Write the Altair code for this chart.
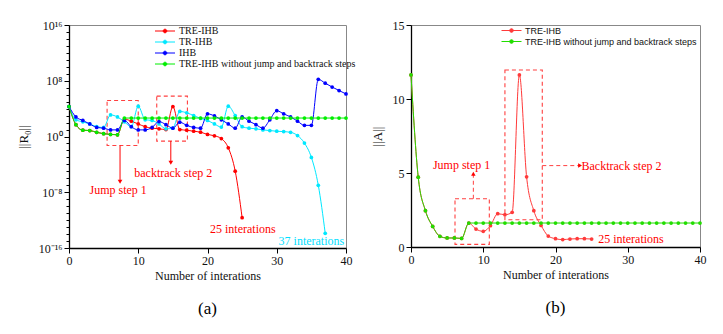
import altair as alt
import pandas as pd

# ---------------- panel (a): log10 of ||R0|| per iteration ----------------
a_names = ["TRE-IHB", "TR-IHB", "IHB", "TRE-IHB without jump and backtrack steps"]
a_colors = ["#ff0000", "#00e8ff", "#0000ff", "#00ee00"]
a_tre = [4.3, 1.7, 0.9, 0.86, 0.6, 0.4, 0.3, 0.25, 2.5, 2.2, 1.8, 1.4, 1.2, 1.1, 1.0,
         4.3, 1.0, 0.9, 0.76, 0.62, 0.3, 0.1, -0.3, -1.62, -4.97, -11.65]
a_tr = [4.3, 2.4, 2.1, 1.8, 1.4, 1.3, 3.1, 2.8, 2.1, 1.4, 4.35, 2.4, 2.3, 1.8, 1.1,
        1.2, 3.6, 3.4, 3.0, 2.6, 2.3, 1.8, 1.35, 4.35, 3.0, 1.4, 1.2, 1.1, 0.95, 0.85,
        0.76, 0.7, 0.6, 0.14, -0.95, -3.0, -7.0, -13.9]
a_ihb = [4.3, 2.8, 2.3, 1.8, 1.3, 1.2, 0.95, 0.95, 2.3, 1.4, 0.95, 0.95, 1.3, 2.15, 1.7,
         1.2, 2.05, 1.6, 1.3, 1.2, 3.25, 2.95, 2.4, 1.8, 1.2, 2.8, 2.2, 1.7, 1.2, 2.4,
         3.7, 3.25, 2.8, 2.2, 1.6, 1.6, 8.2, 7.65, 7.1, 6.6, 6.1]
a_plain = [4.3, 1.7, 0.9, 0.86, 0.6, 0.4, 0.3, 0.25, 2.65, 2.65, 2.65, 2.65, 2.65, 2.65,
           2.65, 2.65, 2.65, 2.65, 2.65, 2.65, 2.65, 2.65, 2.65, 2.65, 2.65, 2.65, 2.65,
           2.65, 2.65, 2.65, 2.65, 2.65, 2.65, 2.65, 2.65, 2.65, 2.65, 2.65, 2.65, 2.65, 2.65]

# annotations (a), y given as log10
a_box_x = [5.5, 12.67]
a_box_x2 = [10.0, 17.1]
a_box_e = [5.16, 5.79]
a_box_e2 = [-1.29, -0.66]
a_arr_x = [7.37, 14.7]
a_arr_e = [-1.29, -0.66]
a_arr_e2 = [-6.5, -3.77]
a_txt = ["Jump step 1", "backtrack step 2", "25 interations", "37 interations"]
a_txt_x = [7.1, 15.05, 25.1, 35.0]
a_txt_e = [-7.7, -5.2, -13.3, -15.0]
a_txt_c = ["#ff0000", "#ff0000", "#ff0000", "#00e0ff"]

# ---------------- panel (b): ||A|| per iteration ----------------
b_names = ["TRE-IHB", "TRE-IHB without jump and backtrack steps"]
b_colors = ["#ff3a3a", "#22dd00"]
b_tre = [11.63, 4.72, 2.45, 1.39, 0.72, 0.61, 0.61, 0.58, 1.62, 1.21, 1.06, 1.44, 2.25,
         2.18, 2.34, 11.63, 4.74, 2.45, 1.46, 0.74, 0.56, 0.5, 0.54, 0.56, 0.56, 0.54]
b_plain = [11.63, 4.72, 2.45, 1.39, 0.72, 0.61, 0.61, 0.58, 1.62, 1.62, 1.62, 1.62, 1.62,
           1.62, 1.62, 1.62, 1.62, 1.62, 1.62, 1.62, 1.62, 1.62, 1.62, 1.62, 1.62, 1.62,
           1.62, 1.62, 1.62, 1.62, 1.62, 1.62, 1.62, 1.62, 1.62, 1.62, 1.62, 1.62, 1.62,
           1.62, 1.62]

b_box_x = [6.09, 13.0]
b_box_x2 = [10.84, 18.17]
b_box_y = [3.26, 11.96]
b_box_y2 = [0.18, 1.84]
b_arr = [  # x, y, x2, y2, head shape
    (8.63, 3.26, 8.63, 4.95, "triangle-up"),
    (18.17, 5.5, 23.4, 5.5, "triangle-right"),
]
b_txt = ["Jump step 1", "Backtrack step 2", "25 interations"]
b_txt_x = [7.0, 23.6, 25.9]
b_txt_y = [5.55, 5.5, 0.56]

SERIF = "Liberation Serif, Times New Roman, Times, serif"
SANS = "Liberation Sans, Arial, sans-serif"
SYM = "M-2.5,0L2.5,0M-0.45,0A0.45,0.45,0,1,0,0.45,0A0.45,0.45,0,1,0,-0.45,0"


def frame(vals, names):
    rows = []
    for n, v in zip(names, vals):
        for i, e in enumerate(v):
            rows.append({"it": i, "e": e, "v": 10 ** e, "s": n})
    return pd.DataFrame(rows)


def legend(x, y, font, size, spacing):
    return alt.Legend(title=None, orient="none", legendX=x, legendY=y, symbolType=SYM,
                      symbolSize=64, symbolStrokeWidth=1, labelOffset=9,
                      labelFont=font, labelFontSize=size, labelColor="#111",
                      rowPadding=spacing, padding=0, labelLimit=400)


xaxis = alt.Axis(values=list(range(0, 41, 5)), title="Number of interations",
                 labelExpr="datum.value % 10 == 0 ? datum.label : ''",
                 tickSize={"condition": {"test": "datum.value % 10 == 0", "value": 5}, "value": 3},
                 grid=False, labelFlush=False, titlePadding=4)
xscale = alt.Scale(domain=[0, 40], nice=False, zero=False)

# ---------------- chart (a) ----------------
dfa = frame([a_tre, a_tr, a_ihb, a_plain], a_names)
ya_scale = alt.Scale(type="log", domain=[1e-16, 1e16], nice=False)
ya_axis = alt.Axis(values=[10.0 ** k for k in range(-16, 17)], title="||R₀||",
                   labelExpr="datum.value == 1e16 ? '10¹⁶' : datum.value == 1e8 ? '10⁸' : datum.value == 1 ? '10⁰' : datum.value == 1e-8 ? '10⁻⁸' : datum.value == 1e-16 ? '10⁻¹⁶' : ''",
                   tickSize={"condition": {"test": "abs(round(log(datum.value)/LN10)) % 8 == 0", "value": 5}, "value": 3},
                   labelOverlap=False, grid=False, titlePadding=8, titleFontSize=13)

lines_a = alt.Chart(dfa).mark_line(interpolate="monotone", strokeWidth=1,
                                   point=alt.OverlayMarkDef(filled=True, size=14)).encode(
    x=alt.X("it:Q", scale=xscale, axis=xaxis),
    y=alt.Y("v:Q", scale=ya_scale, axis=ya_axis),
    color=alt.Color("s:N", scale=alt.Scale(domain=a_names, range=a_colors),
                    legend=legend(91, 1, SERIF, 10, 1)),
    order=alt.Order("it:Q"),
)

boxa = pd.DataFrame({"x": a_box_x, "x2": a_box_x2,
                     "y": [10 ** e for e in a_box_e], "y2": [10 ** e for e in a_box_e2]})
boxes_a = alt.Chart(boxa).mark_rect(fill=None, stroke="#ff4040", strokeDash=[4, 3],
                                    strokeWidth=1.1).encode(x="x:Q", x2="x2:Q", y="y:Q", y2="y2:Q")
arra = pd.DataFrame({"x": a_arr_x, "y": [10 ** e for e in a_arr_e],
                     "y2": [10 ** e for e in a_arr_e2]})
arrows_a = alt.Chart(arra).mark_rule(color="#ff0000", strokeWidth=1).encode(
    x="x:Q", y="y:Q", y2="y2:Q")
heads_a = alt.Chart(arra).mark_point(shape="triangle-down", filled=True, color="#ff0000",
                                     size=22, opacity=1).encode(x="x:Q", y="y2:Q")
txta = pd.DataFrame({"x": a_txt_x, "y": [10 ** e for e in a_txt_e], "t": a_txt, "c": a_txt_c})
texts_a = alt.Chart(txta).mark_text(font=SERIF, fontSize=12, align="center",
                                    baseline="middle").encode(
    x="x:Q", y="y:Q", text="t:N", color=alt.Color("c:N", scale=None))

chart_a = alt.layer(boxes_a, arrows_a, heads_a, lines_a, texts_a).properties(
    width=277, height=223,
    title=alt.TitleParams("(a)", orient="bottom", font=SERIF, fontSize=17,
                          fontWeight="normal", offset=20, color="#000"))

# ---------------- chart (b) ----------------
dfb = frame([b_tre, b_plain], b_names)
yb_axis = alt.Axis(values=[0, 2.5, 5, 7.5, 10, 12.5, 15], title="||A||",
                   labelExpr="datum.value % 5 == 0 ? datum.label : ''",
                   tickSize={"condition": {"test": "datum.value % 5 == 0", "value": 5}, "value": 3},
                   labelOverlap=False, grid=False, titlePadding=8, titleFontSize=13)
lines_b = alt.Chart(dfb).mark_line(interpolate="monotone", strokeWidth=1,
                                   point=alt.OverlayMarkDef(filled=True, size=14)).encode(
    x=alt.X("it:Q", scale=xscale, axis=xaxis),
    y=alt.Y("e:Q", scale=alt.Scale(domain=[0, 15], nice=False), axis=yb_axis),
    color=alt.Color("s:N", scale=alt.Scale(domain=b_names, range=b_colors),
                    legend=legend(96, 1, SANS, 9, 1)),
    order=alt.Order("it:Q"),
)
boxb = pd.DataFrame({"x": b_box_x, "x2": b_box_x2, "y": b_box_y, "y2": b_box_y2})
boxes_b = alt.Chart(boxb).mark_rect(fill=None, stroke="#ff4040", strokeDash=[4, 3],
                                    strokeWidth=1.1).encode(x="x:Q", x2="x2:Q", y="y:Q", y2="y2:Q")
arrb = pd.DataFrame(b_arr, columns=["x", "y", "x2", "y2", "shape"])
arrows_b = alt.Chart(arrb).mark_rule(color="#ff4040", strokeWidth=1, strokeDash=[4, 3]).encode(
    x="x:Q", y="y:Q", x2="x2:Q", y2="y2:Q")
heads_b = alt.Chart(arrb).mark_point(filled=True, color="#ff0000", size=20, opacity=1).encode(
    x="x2:Q", y="y2:Q", shape=alt.Shape("shape:N", scale=None))
txtb = pd.DataFrame({"x": b_txt_x, "y": b_txt_y, "t": b_txt})
texts_b_c = alt.Chart(txtb.iloc[:1]).mark_text(font=SERIF, fontSize=12, align="center",
                                               color="#ff0000").encode(x="x:Q", y="y:Q", text="t:N")
texts_b_l = alt.Chart(txtb.iloc[1:]).mark_text(font=SERIF, fontSize=12, align="left",
                                               color="#ff0000").encode(x="x:Q", y="y:Q", text="t:N")

chart_b = alt.layer(boxes_b, arrows_b, heads_b, lines_b, texts_b_c, texts_b_l).properties(
    width=289, height=222,
    title=alt.TitleParams("(b)", orient="bottom", font=SERIF, fontSize=17,
                          fontWeight="normal", offset=20, color="#000"))

chart = alt.hconcat(chart_a, chart_b, spacing=13).resolve_scale(
    color="independent", x="independent", y="independent"
).properties(padding={"left": 8, "top": 10, "right": 0, "bottom": 0}).configure_view(
    stroke="#888", strokeWidth=1
).configure_axis(
    labelFont=SERIF, labelFontSize=12, labelColor="#111", titleFont=SERIF, titleFontSize=12,
    titleFontWeight="normal", titleColor="#111", domainColor="#000", domainWidth=1.3,
    tickColor="#000", tickWidth=1
)

chart.save("out.html", embed_options={"renderer": "svg", "actions": False})
